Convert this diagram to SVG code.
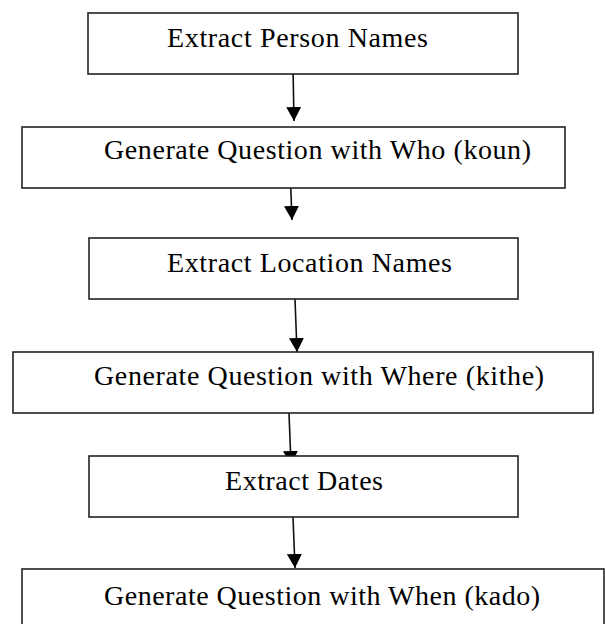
<svg xmlns="http://www.w3.org/2000/svg" width="605" height="624" viewBox="0 0 605 624">
<style>
.box{fill:#fff;stroke:#222;stroke-width:1.6}
.lbl{font-family:"Liberation Serif","Times New Roman",serif;font-size:28px;fill:#000}
.arr{stroke:#111;stroke-width:1.6;fill:none}
</style>
<defs>
<marker id="ah" markerUnits="userSpaceOnUse" markerWidth="15" markerHeight="15" refX="14" refY="7.5" orient="auto" viewBox="0 0 15 15">
<path d="M0,0 L14,7.5 L0,15 Z" fill="#000"/>
</marker>
</defs>
<rect width="605" height="624" fill="#fff"/>
<g id="connectors">
<line class="arr" x1="293" y1="68" x2="294" y2="121" marker-end="url(#ah)"/>
<line class="arr" x1="290" y1="167" x2="292" y2="220" marker-end="url(#ah)"/>
<line class="arr" x1="295" y1="299" x2="297" y2="352" marker-end="url(#ah)"/>
<line class="arr" x1="289" y1="413" x2="291" y2="465" marker-end="url(#ah)"/>
<line class="arr" x1="293" y1="517" x2="295" y2="568" marker-end="url(#ah)"/>
</g>
<g id="n1">
<rect class="box" x="88" y="13" width="430" height="61"/>
<text class="lbl" x="167" y="47" textLength="261">Extract Person Names</text>
</g>
<g id="n2">
<rect class="box" x="22" y="127" width="543" height="61"/>
<text class="lbl" x="104" y="159" textLength="427">Generate Question with Who (koun)</text>
</g>
<g id="n3">
<rect class="box" x="89" y="238" width="429" height="61"/>
<text class="lbl" x="167" y="272" textLength="285">Extract Location Names</text>
</g>
<g id="n4">
<rect class="box" x="13" y="352" width="580" height="61"/>
<text class="lbl" x="94" y="385" textLength="450">Generate Question with Where (kithe)</text>
</g>
<g id="n5">
<rect class="box" x="89" y="456" width="429" height="61"/>
<text class="lbl" x="225" y="490" textLength="158">Extract Dates</text>
</g>
<g id="n6">
<rect class="box" x="22" y="569" width="582" height="70"/>
<text class="lbl" x="104" y="605" textLength="436">Generate Question with When (kado)</text>
</g>
</svg>
